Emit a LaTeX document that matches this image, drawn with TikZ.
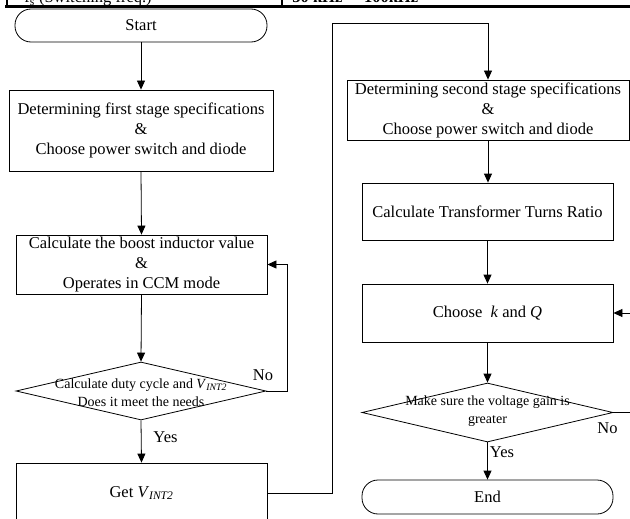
\documentclass[tikz,border=0pt]{standalone}
\usepackage{fontspec}
\setmainfont{Liberation Serif}
\usetikzlibrary{shapes.geometric,arrows.meta}
\begin{document}
\begin{tikzpicture}[x=1pt,y=-1pt,
  line width=0.8pt,
  txt/.style={font=\fontsize{16.5}{20}\selectfont},
  box/.style={draw, rectangle, align=center, txt, inner sep=0pt},
  term/.style={draw, rectangle, rounded corners=16pt, txt, inner sep=0pt},
  dia/.style={draw, diamond, inner sep=0pt},
  diatxt/.style={align=center, font=\fontsize{14}{18}\selectfont, inner sep=0pt},
  lbl/.style={txt, inner sep=0pt},
  arr/.style={-{Triangle[length=9pt,width=8pt]}}
]
\useasboundingbox (0,0) rectangle (630,519);
% cut-off table row at the top
\draw[line width=2.5pt] (5,6.5) -- (631,6.5);
\draw[line width=2pt] (7,-5) -- (7,6.5);
\draw[line width=2pt] (282,-5) -- (282,6.5);
\node[txt, anchor=base west, inner sep=0pt] (tabl) at (24,3) {f\textsubscript{s} (Switching freq.)};
\node[txt, anchor=base west, inner sep=0pt] (tabr) at (292,3) {\textbf{50 kHz $\sim$ 100kHz}};

% left column
\node[term, minimum width=252pt, minimum height=33pt] (start) at (141,25.5) {Start};
\node[box, minimum width=264pt, minimum height=81pt] (b1) at (141,130.5)
  {Determining first stage specifications\\\&\\Choose power switch and diode};
\node[box, minimum width=251pt, minimum height=59pt] (b2) at (141.5,264.5)
  {Calculate the boost inductor value\\\&\\Operates in CCM mode};
\node[dia, minimum width=250pt, minimum height=58pt,
  label={[diatxt, yshift=-2pt]center:{Calculate duty cycle and \textit{V}\textsubscript{\textit{INT2}}\\Does it meet the needs}}] (d1) at (141,391) {};
\node[box, minimum width=251pt, minimum height=60pt] (b3) at (141.5,493)
  {Get \textit{V}\textsubscript{\textit{INT2}}};

% right column
\node[box, minimum width=282pt, minimum height=60pt] (b4) at (488,110)
  {Determining second stage specifications\\\&\\Choose power switch and diode};
\node[box, minimum width=251pt, minimum height=57pt] (b5) at (487.5,211.5)
  {Calculate Transformer Turns Ratio};
\node[box, minimum width=251pt, minimum height=58pt] (b6) at (487.5,313)
  {Choose~ \textit{k} and \textit{Q}};
\node[dia, minimum width=251pt, minimum height=59pt,
  label={[diatxt, yshift=1pt]center:{Make sure the voltage gain is\\greater}}] (d2) at (487.5,412.5) {};
\node[term, minimum width=251pt, minimum height=34pt] (end) at (487.5,497) {End};

% labels
\node[lbl] (no1) at (263,375) {No};
\node[lbl] (yes1) at (165.5,437) {Yes};
\node[lbl] (no2) at (607.5,428) {No};
\node[lbl] (yes2) at (502,452) {Yes};

% helper coordinates
\coordinate (n1) at (287,264.5);
\coordinate (t1) at (332,23);
\coordinate (e1) at (631,313);
\coordinate (e2) at (631,412.5);

% connectors
\draw[arr] (start.south -| b1.north) -- (b1.north);
\draw[arr] (b1.south) -- (b2.north);
\draw[arr] (b2.south) -- (d1.north);
\draw[arr] (d1.east) -| (n1) -- (b2.east);
\draw[arr] (d1.south) -- (b3.north);
\draw[arr] (b3.east) -| (t1) -| (b4.north);
\draw[arr] (b4.south) -- (b4.south |- b5.north);
\draw[arr] (b5.south) -- (b6.north);
\draw[arr] (e1) -- (b6.east);
\draw[arr] (b6.south) -- (d2.north);
\draw (d2.east) -- (e2);
\draw[arr] (d2.south) -- (end.north);
\end{tikzpicture}
\end{document}
